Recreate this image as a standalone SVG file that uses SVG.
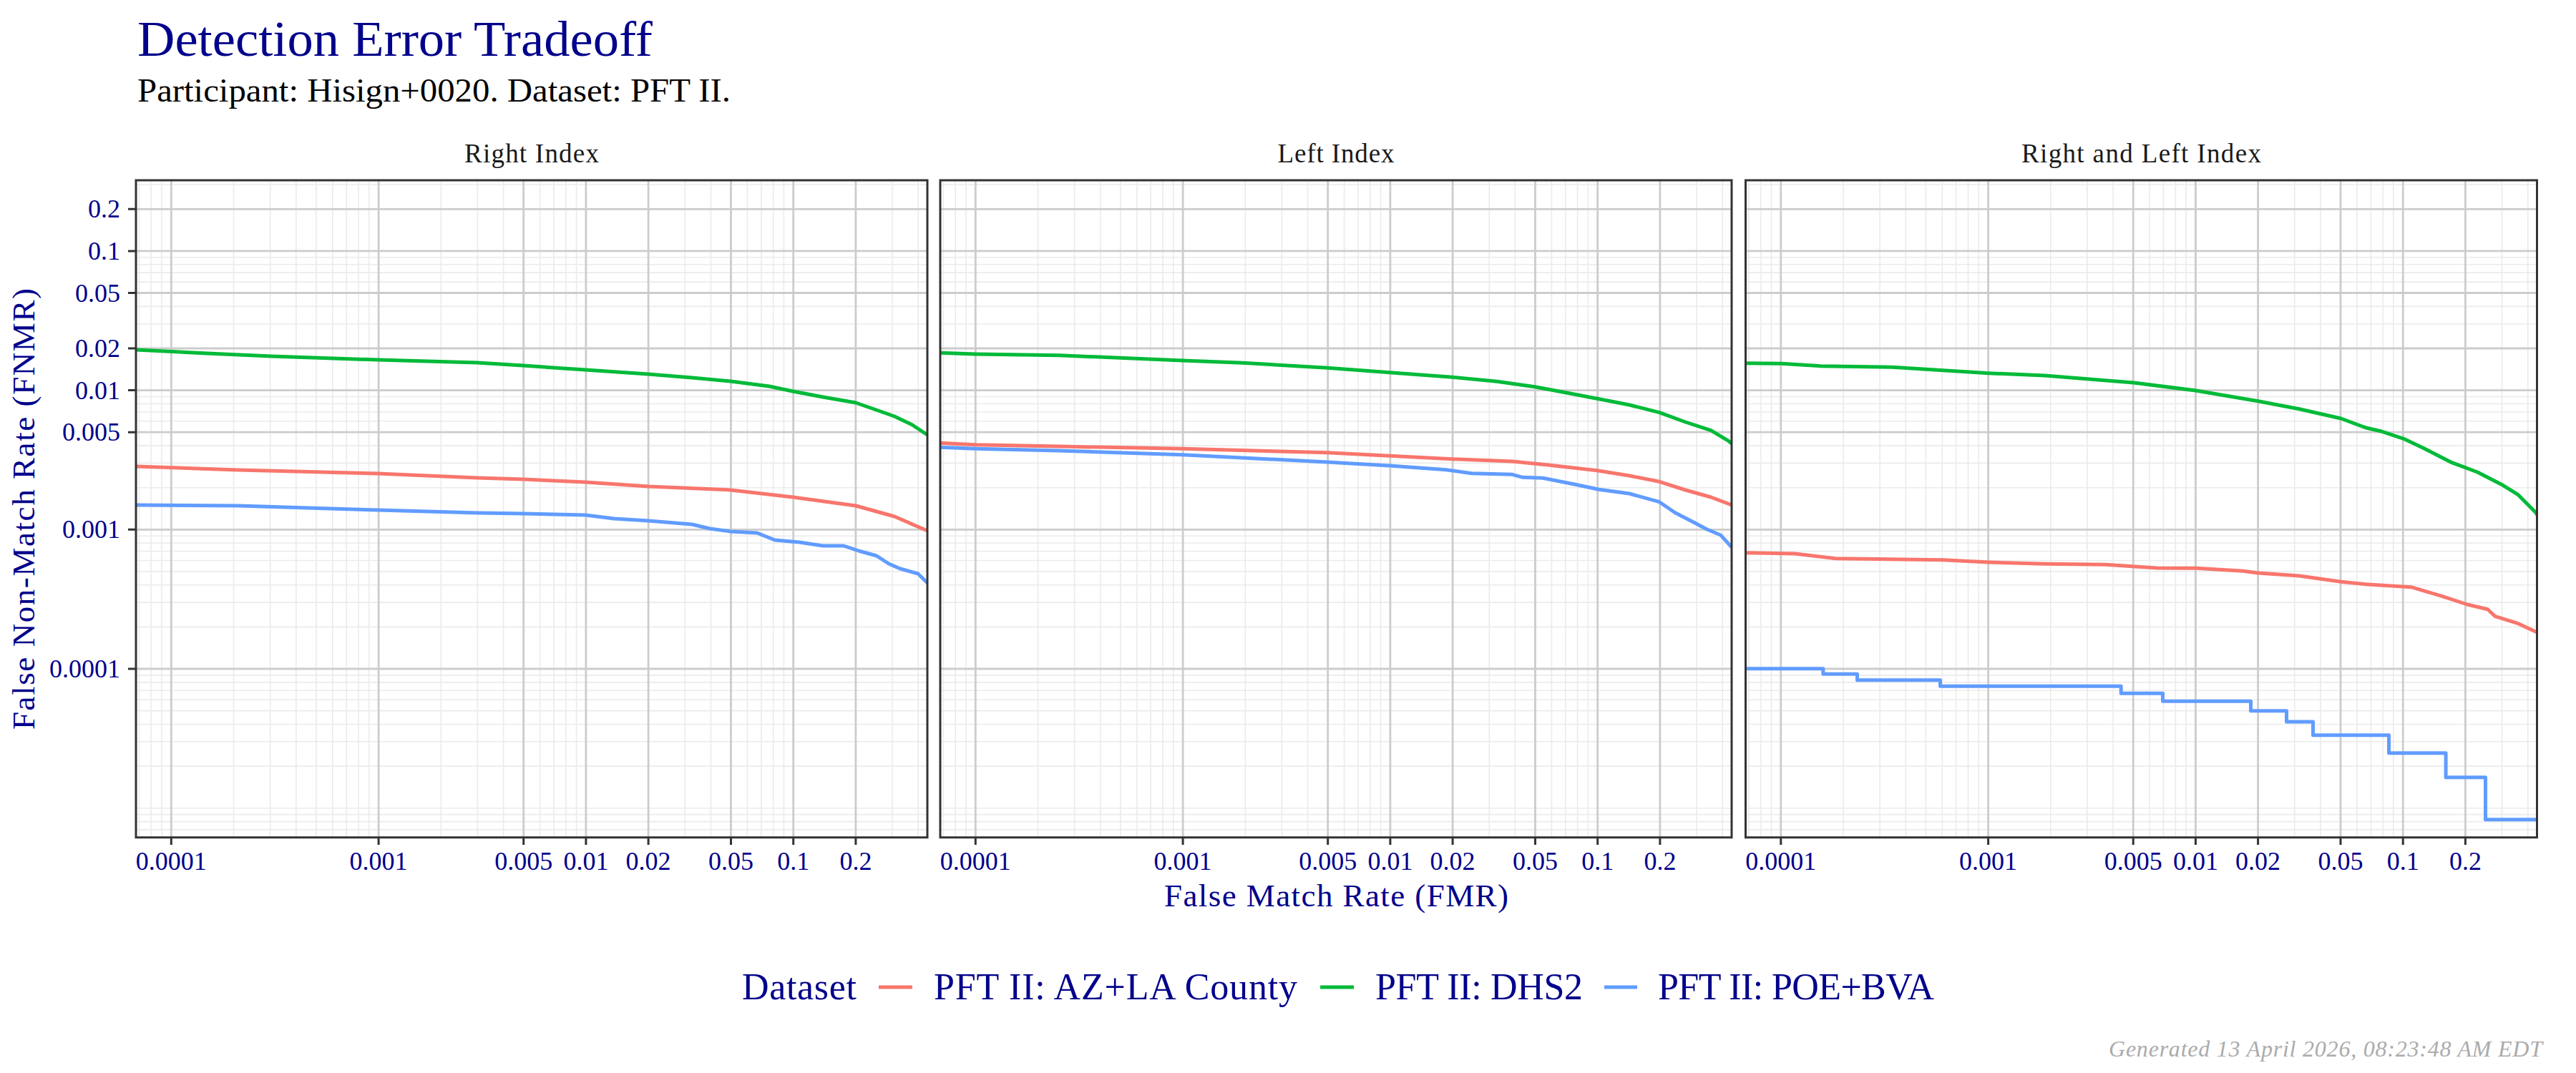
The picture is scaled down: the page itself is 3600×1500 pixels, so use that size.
<svg xmlns="http://www.w3.org/2000/svg" xmlns:xlink="http://www.w3.org/1999/xlink" width="3600" height="1500" viewBox="0 0 3600 1500">
<style>
.mn{stroke:#ebebeb;stroke-width:1.6;fill:none}
.mj{stroke:#cccccc;stroke-width:2.8;fill:none}
.cv{fill:none;stroke-width:5;stroke-linejoin:round;stroke-linecap:butt}
.r{stroke:#F8766D}.g{stroke:#00BA38}.b{stroke:#619CFF}
.border{fill:none;stroke:#333333;stroke-width:3}
.tick{stroke:#333333;stroke-width:3;fill:none}
.f{font-family:"Liberation Serif","DejaVu Serif",serif}
.tl{font-size:36px;fill:#00008B}
.xt{text-anchor:middle}
.yt{text-anchor:end}
.strip{font-size:37px;fill:#1a1a1a;text-anchor:middle}
.ax{font-size:45px;fill:#00008B;text-anchor:middle}
.lg{font-size:52px;fill:#00008B}
</style>
<defs>
<clipPath id="pc"><rect x="0" y="252" width="1106" height="918.7"/></clipPath>
<g id="grid">
<rect x="0" y="252" width="1106" height="918.7" fill="#ffffff"/>
<path class="mn" d="M0,1159.9H1106M0,1148.6H1106M0,1138.6H1106M0,1129.7H1106M0,1071.1H1106M0,1036.8H1106M0,1012.5H1106M0,993.6H1106M0,978.2H1106M0,965.2H1106M0,953.9H1106M0,943.9H1106M0,876.4H1106M0,842.1H1106M0,817.8H1106M0,798.9H1106M0,783.5H1106M0,770.5H1106M0,759.2H1106M0,749.2H1106M0,681.7H1106M0,647.4H1106M0,623.1H1106M0,588.8H1106M0,575.8H1106M0,564.5H1106M0,554.5H1106M0,452.7H1106M0,428.4H1106M0,394.1H1106M0,381.1H1106M0,369.8H1106M0,359.8H1106M0,258H1106"/>
<path class="mn" d="M4.4,252V1170.7M21.2,252V1170.7M36,252V1170.7M136.5,252V1170.7M187.6,252V1170.7M223.8,252V1170.7M251.9,252V1170.7M274.8,252V1170.7M294.2,252V1170.7M311,252V1170.7M325.8,252V1170.7M426.3,252V1170.7M477.4,252V1170.7M513.6,252V1170.7M564.6,252V1170.7M584,252V1170.7M600.8,252V1170.7M615.6,252V1170.7M767.2,252V1170.7M803.4,252V1170.7M854.4,252V1170.7M873.8,252V1170.7M890.6,252V1170.7M905.4,252V1170.7M1057,252V1170.7M1093.2,252V1170.7"/>
<path class="mj" d="M0,935H1106M0,740.3H1106M0,604.2H1106M0,545.6H1106M0,487H1106M0,409.5H1106M0,350.9H1106M0,292.3H1106"/>
<path class="mj" d="M49.3,252V1170.7M339.1,252V1170.7M541.7,252V1170.7M628.9,252V1170.7M716.1,252V1170.7M831.5,252V1170.7M918.7,252V1170.7M1005.9,252V1170.7"/>
</g>
<path id="xticks" class="tick" d="M49.3,1170.7V1181M339.1,1170.7V1181M541.7,1170.7V1181M628.9,1170.7V1181M716.1,1170.7V1181M831.5,1170.7V1181M918.7,1170.7V1181M1005.9,1170.7V1181"/>
</defs>
<rect x="0" y="0" width="3600" height="1500" fill="#ffffff"/>

<g id="titles" class="f">
<text x="192" y="78" font-size="70" fill="#00008B" textLength="720" lengthAdjust="spacingAndGlyphs">Detection Error Tradeoff</text>
<text x="192" y="142" font-size="47" fill="#000000" textLength="829" lengthAdjust="spacingAndGlyphs">Participant: Hisign+0020. Dataset: PFT II.</text>
</g>

<g id="panel-right-index" transform="translate(190,0)">
<use xlink:href="#grid"/>
<g clip-path="url(#pc)">
<path class="cv r" d="M0,652L143,657L338,662L477,668L541,670L628,674L716,680L831,685L918,695L1006,707L1060,722L1106,742"/>
<path class="cv g" d="M0,489L100,494L189,498L338,503L477,507L541,511L628,517L716,523L777,528L831,533L885,540L918,547L960,555L1006,563L1060,582L1085,594L1106,608"/>
<path class="cv b" d="M0,706L143,707L338,713L477,717L541,718L628,720L668,725L716,728L777,733L802,739L831,743L868,745L893,755L927,758L960,763L989,763L1010,770L1035,777L1052,788L1068,795L1093,802L1106,815"/>
</g>
<rect class="border" x="0" y="252" width="1106" height="918.7"/>
<use xlink:href="#xticks"/>
<text class="f strip" x="553" y="227" textLength="188">Right Index</text>
</g>

<g id="panel-left-index" transform="translate(1314,0)">
<use xlink:href="#grid"/>
<g clip-path="url(#pc)">
<path class="cv r" d="M0,619.3L49,621.7L166,624L338.5,627.3L541,632.7L628,637.3L715.5,641.7L799.5,645L849.5,650L918,657.7L963,665L1005,673.3L1041.5,685L1077,695L1106,706"/>
<path class="cv g" d="M0,493.3L49,495L166,496.7L338.5,504L422.5,507.3L541,514.3L628,520.7L715.5,527.3L778,533.3L831,540.7L871,548.3L918,557.3L963,566L1005,576.7L1041.5,590L1077,601.7L1102,616.7L1106,620"/>
<path class="cv b" d="M0,625.3L49,627.3L166,630L338.5,635.7L422.5,640L541,646L628,651L707,656.7L742.5,661.7L799.5,663.3L814,667.3L842,668.3L885,676.7L920.5,684.3L963,690L1005,701.7L1027,716.7L1056,731.7L1070,739.3L1091,748.3L1106,765"/>
</g>
<rect class="border" x="0" y="252" width="1106" height="918.7"/>
<use xlink:href="#xticks"/>
<text class="f strip" x="553" y="227" textLength="163">Left Index</text>
</g>

<g id="panel-right-and-left-index" transform="translate(2439.5,0)">
<use xlink:href="#grid"/>
<g clip-path="url(#pc)">
<path class="cv r" d="M0,772.7L69,774L126,780.7L275.6,782.7L340,786L418,788.3L503,789.3L574.5,794L629.3,794.3L695.4,798.3L716,801L773.7,805L832,813.3L866,816.7L930,820.7L973,833.3L1008.5,845L1037,851.7L1047.6,861.7L1079.7,871.7L1106,884"/>
<path class="cv g" d="M0,507.7L50,508.3L105,511.7L204.5,513.3L340,521.7L418,525L542.4,535L629.3,546L716,560.7L773.7,571.7L832,585L866,597.7L887.5,602.7L919.6,613.3L948,626.7L987,646.7L1022.7,660L1058.3,678.3L1079.7,691.7L1104.5,716.7L1106,720"/>
<path class="cv b" d="M0,934.7H108.4V942.3H156V950.7H272V959.3H524.7V969.3H583V980.3H706V993.7H756V1009H793V1027.7H899V1052.7H978.6V1086.7H1034V1145.7H1106"/>
</g>
<rect class="border" x="0" y="252" width="1106" height="918.7"/>
<use xlink:href="#xticks"/>
<text class="f strip" x="553" y="227" textLength="335">Right and Left Index</text>
</g>

<g id="y-axis" class="f tl yt">
<path class="tick" d="M179,292.3H190M179,350.9H190M179,409.5H190M179,487H190M179,545.6H190M179,604.2H190M179,740.3H190M179,935H190"/>
<text x="168" y="304.3">0.2</text>
<text x="168" y="362.9">0.1</text>
<text x="168" y="421.5">0.05</text>
<text x="168" y="499">0.02</text>
<text x="168" y="557.6">0.01</text>
<text x="168" y="616.2">0.005</text>
<text x="168" y="752.3">0.001</text>
<text x="168" y="947">0.0001</text>
</g>

<g id="x-axis-labels" class="f tl xt">
<text x="239.3" y="1216">0.0001</text>
<text x="529.1" y="1216">0.001</text>
<text x="731.7" y="1216">0.005</text>
<text x="818.9" y="1216">0.01</text>
<text x="906.1" y="1216">0.02</text>
<text x="1021.5" y="1216">0.05</text>
<text x="1108.7" y="1216">0.1</text>
<text x="1195.9" y="1216">0.2</text>
<text x="1363.3" y="1216">0.0001</text>
<text x="1653.1" y="1216">0.001</text>
<text x="1855.7" y="1216">0.005</text>
<text x="1942.9" y="1216">0.01</text>
<text x="2030.1" y="1216">0.02</text>
<text x="2145.5" y="1216">0.05</text>
<text x="2232.7" y="1216">0.1</text>
<text x="2319.9" y="1216">0.2</text>
<text x="2488.8" y="1216">0.0001</text>
<text x="2778.6" y="1216">0.001</text>
<text x="2981.2" y="1216">0.005</text>
<text x="3068.4" y="1216">0.01</text>
<text x="3155.6" y="1216">0.02</text>
<text x="3271" y="1216">0.05</text>
<text x="3358.2" y="1216">0.1</text>
<text x="3445.4" y="1216">0.2</text>
</g>

<g id="axis-titles" class="f ax">
<text x="1867.5" y="1267" textLength="481">False Match Rate (FMR)</text>
<text transform="translate(48,711.5) rotate(-90)" x="0" y="0" textLength="617">False Non-Match Rate (FNMR)</text>
</g>

<g id="legend" class="f lg">
<text x="1037" y="1397" textLength="160">Dataset</text>
<path class="cv r" d="M1228,1380H1275"/>
<text x="1305" y="1397" textLength="508">PFT II: AZ+LA County</text>
<path class="cv g" d="M1845,1380H1892"/>
<text x="1922" y="1397" textLength="290">PFT II: DHS2</text>
<path class="cv b" d="M2242,1380H2288"/>
<text x="2317" y="1397" textLength="386">PFT II: POE+BVA</text>
</g>

<g id="footer" class="f">
<text x="3553" y="1477" font-size="32" font-style="italic" fill="#ababab" text-anchor="end" textLength="606">Generated 13 April 2026, 08:23:48 AM EDT</text>
</g>
</svg>
